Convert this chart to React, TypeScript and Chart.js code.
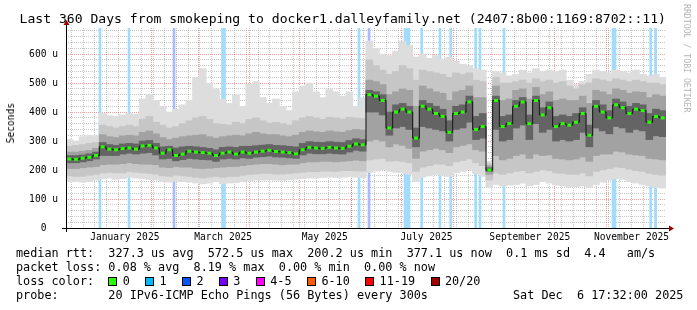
import React, { useEffect, useRef } from 'react';
import { Chart, registerables } from 'chart.js';

Chart.register(...registerables);

const FONT = "'DejaVu Sans Mono', monospace";

const TITLE = 'Last 360 Days from smokeping to docker1.dalleyfamily.net (2407:8b00:1169:8702::11)';
const Y_TITLE = 'Seconds';
const CREDIT = 'RRDTOOL / TOBI OETIKER';

const RANGE_DAYS = 360;
const BUCKET_DAYS = 4;
const Y_MAX = 690;
const START_UTC = Date.UTC(2024, 11, 11, 17, 32);
const DAY_MS = 86400000;

// x tick labels (month names) and the dates they are centred on
const monthLabels = ['January 2025', 'March 2025', 'May 2025', 'July 2025', 'September 2025', 'November 2025'];
const monthLabelDates: [number, number, number][] = [
  [2025, 0, 16], [2025, 2, 16], [2025, 4, 16], [2025, 6, 16], [2025, 8, 16], [2025, 10, 16],
];

// y tick labels
const yTickValues = [0, 100, 200, 300, 400, 500, 600];
const yTickLabels = ['0  ', '100 u', '200 u', '300 u', '400 u', '500 u', '600 u'];

// RTT distribution per 4-day bucket (microseconds)
const rttMin = [
  162, 160, 158, 160, 165, 170, 172, 168, 170, 175, 172, 170, 168, 165, 160, 158, 162, 160, 158, 155, 152, 155, 160, 152, 155,
  156, 160, 162, 165, 165, 166, 165, 164, 166, 168, 170, 172, 172, 174, 175, 174, 175, 176, 175, 174,
  192, 196, 200, 195, 192, 190, 185, 160, 175, 180, 185, 182, 178, 190, 195, 200, 188, 178, 140, 150, 145, 148, 150, 155, 145,
  150, 160, 155, 148, 145, 142, 142, 145, 140, 150, 158, 165, 170, 168, 160, 155, 150, 145, 140, 137,
];
const rttP10 = [
  180, 178, 178, 182, 185, 190, 192, 190, 190, 195, 192, 190, 188, 186, 180, 178, 182, 180, 178, 175, 172, 175, 178, 175, 178,
  178, 182, 185, 186, 188, 188, 186, 186, 188, 190, 192, 194, 194, 196, 196, 195, 198, 198, 197, 196,
  235, 238, 240, 230, 232, 230, 225, 195, 210, 215, 220, 220, 215, 228, 232, 238, 225, 215, 165, 190, 185, 190, 195, 198, 190,
  195, 200, 198, 190, 188, 185, 185, 190, 180, 195, 200, 205, 210, 208, 202, 198, 195, 188, 185, 182,
];
const rttP25 = [
  205, 205, 208, 210, 212, 218, 220, 220, 222, 225, 222, 220, 220, 218, 210, 208, 212, 210, 210, 206, 205, 206, 208, 210, 212,
  212, 215, 218, 220, 222, 222, 220, 218, 220, 220, 225, 228, 228, 230, 230, 228, 230, 232, 234, 232,
  300, 305, 300, 280, 290, 285, 275, 240, 265, 270, 275, 270, 260, 280, 285, 290, 270, 265, 185, 250, 235, 240, 250, 255, 240,
  255, 250, 252, 240, 238, 235, 238, 245, 230, 250, 255, 255, 265, 262, 255, 252, 250, 240, 238, 235,
];
const rttP40 = [
  225, 225, 228, 232, 238, 250, 250, 250, 255, 258, 255, 258, 260, 252, 238, 240, 232, 236, 240, 238, 236, 235, 230, 238, 240,
  238, 242, 240, 244, 246, 248, 245, 244, 242, 240, 252, 258, 256, 256, 258, 256, 255, 262, 268, 265,
  400, 400, 390, 320, 345, 350, 340, 280, 350, 345, 340, 335, 300, 340, 345, 365, 305, 310, 195, 340, 300, 305, 345, 355, 305,
  360, 330, 340, 300, 305, 300, 305, 330, 280, 345, 335, 325, 350, 345, 330, 340, 335, 305, 318, 315,
];
const rttMedian = [
  238, 237, 241, 244, 250, 280, 272, 270, 274, 276, 272, 283, 285, 276, 258, 270, 250, 255, 265, 262, 260, 258, 250, 258, 262,
  255, 262, 258, 262, 265, 268, 264, 262, 260, 256, 270, 278, 276, 275, 278, 276, 275, 282, 290, 287,
  460, 455, 440, 345, 400, 410, 400, 310, 420, 410, 395, 385, 330, 395, 400, 435, 340, 350, 200, 440, 350, 360, 420, 435, 360,
  440, 390, 415, 350, 360, 355, 365, 395, 320, 420, 400, 380, 425, 415, 395, 410, 405, 365, 385, 380,
];
const rttP60 = [
  250, 250, 252, 256, 262, 295, 288, 285, 290, 292, 290, 300, 302, 292, 280, 282, 276, 280, 282, 280, 278, 275, 270, 278, 280,
  278, 282, 282, 284, 286, 288, 285, 284, 282, 280, 292, 298, 296, 295, 298, 296, 295, 302, 308, 305,
  475, 470, 460, 400, 425, 430, 420, 345, 440, 430, 420, 410, 370, 420, 425, 455, 385, 395, 208, 455, 385, 390, 440, 450, 390,
  455, 415, 435, 385, 390, 385, 395, 415, 355, 440, 425, 405, 445, 435, 420, 430, 425, 395, 410, 405,
];
const rttP75 = [
  262, 262, 265, 268, 275, 322, 315, 312, 318, 320, 318, 330, 335, 325, 312, 305, 310, 315, 318, 320, 322, 315, 310, 315, 318,
  320, 318, 325, 330, 325, 322, 322, 318, 315, 320, 330, 335, 332, 330, 335, 332, 330, 336, 340, 338,
  510, 505, 495, 460, 470, 480, 475, 420, 490, 480, 470, 465, 440, 470, 475, 490, 450, 450, 215, 490, 440, 445, 475, 480, 445,
  485, 460, 470, 440, 445, 440, 440, 455, 430, 475, 470, 460, 480, 475, 465, 470, 468, 450, 460, 455,
];
const rttP90 = [
  282, 285, 288, 292, 295, 355, 350, 345, 350, 355, 350, 375, 385, 365, 355, 345, 350, 360, 370, 380, 385, 375, 360, 358, 355,
  365, 360, 375, 380, 370, 362, 365, 360, 355, 370, 380, 385, 380, 375, 382, 380, 376, 382, 380, 378,
  580, 560, 545, 530, 540, 560, 550, 510, 545, 540, 535, 530, 520, 535, 530, 535, 510, 505, 222, 520, 500, 500, 505, 510, 500,
  515, 505, 510, 500, 505, 490, 480, 495, 500, 515, 510, 505, 515, 510, 505, 510, 505, 500, 500, 495,
];
const rttMax = [
  305, 300, 315, 320, 318, 395, 388, 385, 390, 395, 392, 445, 462, 440, 420, 400, 410, 425, 440, 520, 550, 500, 480, 445, 430,
  460, 420, 495, 505, 450, 430, 445, 420, 405, 470, 490, 500, 470, 450, 480, 470, 455, 470, 420, 450,
  645, 620, 600, 595, 610, 645, 630, 590, 600, 585, 595, 580, 590, 575, 565, 560, 550, 545, 230, 540, 535, 525, 530, 545, 535,
  550, 540, 545, 540, 545, 510, 495, 505, 530, 545, 540, 535, 545, 540, 535, 545, 530, 525, 530, 520,
];

// packet-loss events (day offset from graph start, number of lost pings)
const lossDay = [20.4, 37.8, 64.8, 93.9, 95.1, 175.8, 181.8, 203.4, 204.6, 205.8, 213.4, 224.4, 230.8, 245.8, 248.4, 262.8, 328.2, 329.4, 350.8, 353.8];
const lossPings = [1, 1, 2, 1, 1, 1, 2, 1, 1, 1, 1, 1, 1, 1, 1, 1, 1, 1, 1, 1];

// legend texts
const rttStats = ['327.3 us avg', '572.5 us max', '200.2 us min', '377.1 us now', '0.1 ms sd', '4.4   am/s'];
const lossStats = ['0.08 % avg', '8.19 % max', '0.00 % min', '0.00 % now'];
const lossLegend: [string, string][] = [
  ['0', '#26ff00'], ['1', '#00b8ff'], ['2', '#0059ff'], ['3', '#7600ff'],
  ['4-5', '#ff00ff'], ['6-10', '#ff5a00'], ['11-19', '#ff0000'], ['20/20', '#a10000'],
];
const PROBE = 'probe:       20 IPv6-ICMP Echo Pings (56 Bytes) every 300s';
const STAMP = 'Sat Dec  6 17:32:00 2025';

const MINOR = 'rgba(130,130,130,0.45)';
const MAJOR = 'rgba(235,40,40,0.45)';

const dayOf = (y: number, m: number, d: number) => (Date.UTC(y, m, d) - START_UTC) / DAY_MS;

function gridDays() {
  const weeks: number[] = [];
  for (let d = dayOf(2024, 11, 15); d < RANGE_DAYS; d += 7) weeks.push(d);
  const months: number[] = [];
  for (let m = 0; m < 12; m++) {
    const d = dayOf(2025, m, 1);
    if (d > 0 && d < RANGE_DAYS) months.push(d);
  }
  return { weeks, months };
}

const axesPlugin = {
  id: 'rrdAxes',
  afterDraw(chart: any) {
    const { ctx, chartArea: a } = chart;
    const xb = Math.round(a.bottom) + 0.5;
    const yl = Math.round(a.left) + 0.5;
    ctx.save();
    ctx.strokeStyle = '#000';
    ctx.lineWidth = 1;
    ctx.beginPath();
    ctx.moveTo(a.left - 4, xb);
    ctx.lineTo(a.right + 3, xb);
    ctx.moveTo(yl, a.bottom + 4);
    ctx.lineTo(yl, a.top - 3);
    ctx.stroke();
    ctx.fillStyle = '#a00000';
    ctx.beginPath();
    ctx.moveTo(a.right + 8, xb);
    ctx.lineTo(a.right + 3, xb - 3);
    ctx.lineTo(a.right + 3, xb + 3);
    ctx.closePath();
    ctx.fill();
    ctx.beginPath();
    ctx.moveTo(yl, a.top - 8);
    ctx.lineTo(yl - 3, a.top - 3);
    ctx.lineTo(yl + 3, a.top - 3);
    ctx.closePath();
    ctx.fill();
    ctx.restore();
  },
};

export default function App() {
  const ref = useRef<HTMLCanvasElement>(null);

  useEffect(() => {
    document.body.style.margin = '0';
    const { weeks, months } = gridDays();
    const labelDays = monthLabelDates.map(([y, m, d]) => dayOf(y, m, d));
    const centers = rttMedian.map((_, i) => i * BUCKET_DAYS + BUCKET_DAYS / 2);
    const band = (lo: number[], hi: number[]) => lo.map((v, i) => ({ x: centers[i], y: [v, hi[i]] }));
    const lossBars = (n: number) =>
      lossDay.filter((_, i) => (n === 1 ? lossPings[i] === 1 : lossPings[i] >= 2)).map((d) => ({ x: d, y: [0, Y_MAX] }));
    const minorY: number[] = [];
    for (let v = 20; v < Y_MAX; v += 20) if (v % 100 !== 0) minorY.push(v);

    const tickFont = { family: FONT, size: 9.6 };
    const noPad = (s: any) => {
      s.paddingLeft = 0;
      s.paddingRight = 0;
      s.paddingTop = 0;
      s.paddingBottom = 0;
    };

    const barBase = { type: 'bar' as const, grouped: false, borderWidth: 0, borderSkipped: false };

    const chart = new Chart(ref.current as HTMLCanvasElement, {
      type: 'bar',
      data: {
        datasets: [
          { ...barBase, data: lossBars(1) as any, backgroundColor: '#a2dcfb', barThickness: 2, order: 10 },
          { ...barBase, data: lossBars(2) as any, backgroundColor: '#a6bcfd', barThickness: 2, order: 10 },
          { ...barBase, data: band(rttMin, rttMax) as any, backgroundColor: '#dddddd', barThickness: 7, order: 9 },
          { ...barBase, data: band(rttP10, rttP90) as any, backgroundColor: '#c6c6c6', barThickness: 7, order: 8 },
          { ...barBase, data: band(rttP25, rttP75) as any, backgroundColor: '#a2a2a2', barThickness: 7, order: 7 },
          { ...barBase, data: band(rttP40, rttP60) as any, backgroundColor: '#646464', barThickness: 7, order: 6 },
          {
            type: 'line',
            data: centers.map((x, i) => ({ x, y: rttMedian[i] })) as any,
            stepped: 'middle',
            borderColor: '#161616',
            borderWidth: 1,
            pointRadius: 0,
            order: 5,
          },
          {
            type: 'line',
            data: centers.map((x, i) => ({ x, y: rttMedian[i] })) as any,
            showLine: false,
            pointStyle: 'line',
            pointRadius: 2,
            pointBorderWidth: 3,
            pointBorderColor: '#26ff00',
            pointBackgroundColor: '#26ff00',
            order: 4,
          },
        ] as any,
      },
      options: {
        responsive: false,
        animation: false,
        devicePixelRatio: 1,
        events: [],
        layout: { padding: { left: 0, right: 31, top: 28, bottom: 64 } },
        plugins: { legend: { display: false }, tooltip: { enabled: false }, title: { display: false } },
        scales: {
          x: {
            type: 'linear', min: 0, max: RANGE_DAYS, position: 'bottom', offset: false, z: 1,
            afterBuildTicks: (s: any) => { s.ticks = weeks.map((value) => ({ value })); },
            afterFit: (s: any) => { s.height = 0; noPad(s); },
            ticks: { display: false },
            grid: { color: MINOR, lineWidth: 1, drawTicks: false, offset: false },
            border: { display: false, dash: [1, 1] },
          },
          xMonth: {
            type: 'linear', min: 0, max: RANGE_DAYS, position: 'bottom', offset: false, z: 1,
            afterBuildTicks: (s: any) => { s.ticks = months.map((value) => ({ value })); },
            afterFit: (s: any) => { s.height = 0; noPad(s); },
            ticks: { display: false },
            grid: { color: MAJOR, lineWidth: 1, drawTicks: false, offset: false },
            border: { display: false, dash: [1, 1] },
          },
          xLabel: {
            type: 'linear', min: 0, max: RANGE_DAYS, position: 'bottom', offset: false,
            afterBuildTicks: (s: any) => { s.ticks = labelDays.map((value) => ({ value })); },
            afterFit: (s: any) => { s.height = 18; noPad(s); },
            grid: { display: false, drawTicks: false },
            border: { display: false },
            ticks: {
              autoSkip: false, maxRotation: 0, minRotation: 0, padding: 4, font: tickFont, color: '#000',
              callback: (_v: any, i: number) => monthLabels[i],
            },
          },
          y: {
            type: 'linear', min: 0, max: Y_MAX, position: 'left', z: 1,
            afterBuildTicks: (s: any) => { s.ticks = minorY.map((value) => ({ value })); },
            afterFit: (s: any) => { s.width = 0; noPad(s); },
            ticks: { display: false },
            grid: { color: MINOR, lineWidth: 1, drawTicks: false },
            border: { display: false, dash: [1, 1] },
          },
          yMajor: {
            type: 'linear', min: 0, max: Y_MAX, position: 'left', z: 1,
            afterBuildTicks: (s: any) => { s.ticks = yTickValues.map((value) => ({ value })); },
            afterFit: (s: any) => { s.width = 66; noPad(s); },
            ticks: {
              autoSkip: false, padding: 8, font: tickFont, color: '#000',
              callback: (_v: any, i: number) => yTickLabels[i],
            },
            grid: { color: MAJOR, lineWidth: 1, drawTicks: false },
            border: { display: false, dash: [1, 1] },
          },
        } as any,
      },
      plugins: [axesPlugin],
    } as any);
    return () => chart.destroy();
  }, []);

  const textBase: React.CSSProperties = { position: 'absolute', fontFamily: FONT, whiteSpace: 'pre', color: '#000' };

  return (
    <div style={{ position: 'relative', width: 697, height: 310, background: '#fff', overflow: 'hidden' }}>
      <canvas ref={ref} width={697} height={310} style={{ position: 'absolute', left: 0, top: 0 }} />
      <div style={{ ...textBase, left: 19.5, top: 12, fontSize: 13.1, lineHeight: '13.1px' }}>{TITLE}</div>
      <div
        style={{
          ...textBase, left: 6, top: 103, fontSize: 9.6, lineHeight: '10px',
          writingMode: 'vertical-rl', transform: 'rotate(180deg)',
        }}
      >
        {Y_TITLE}
      </div>
      <div
        style={{
          ...textBase, left: 683, top: 4, fontSize: 8.2, lineHeight: '8px', color: '#b4b4b4',
          writingMode: 'vertical-rl',
        }}
      >
        {CREDIT}
      </div>
      <div style={{ ...textBase, left: 16, top: 246, fontSize: 11.8, lineHeight: '14px' }}>
        {'median rtt:  ' + rttStats.join('  ')}
      </div>
      <div style={{ ...textBase, left: 16, top: 260, fontSize: 11.8, lineHeight: '14px' }}>
        {'packet loss: ' + lossStats.join('  ')}
      </div>
      <div
        style={{
          ...textBase, left: 16, top: 274, fontSize: 11.8, lineHeight: '14px', height: 14,
          display: 'flex', alignItems: 'center',
        }}
      >
        <span>{'loss color:  '}</span>
        {lossLegend.map(([label, color]) => (
          <span key={label} style={{ display: 'flex', alignItems: 'center', marginRight: 15.5 }}>
            <span
              style={{
                display: 'inline-block', width: 7, height: 7, border: '1px solid #000',
                background: color, marginRight: 5.3,
              }}
            />
            <span>{label}</span>
          </span>
        ))}
      </div>
      <div style={{ ...textBase, left: 16, top: 288, fontSize: 11.8, lineHeight: '14px' }}>{PROBE}</div>
      <div style={{ ...textBase, left: 513, top: 288, fontSize: 11.8, lineHeight: '14px' }}>{STAMP}</div>
    </div>
  );
}
